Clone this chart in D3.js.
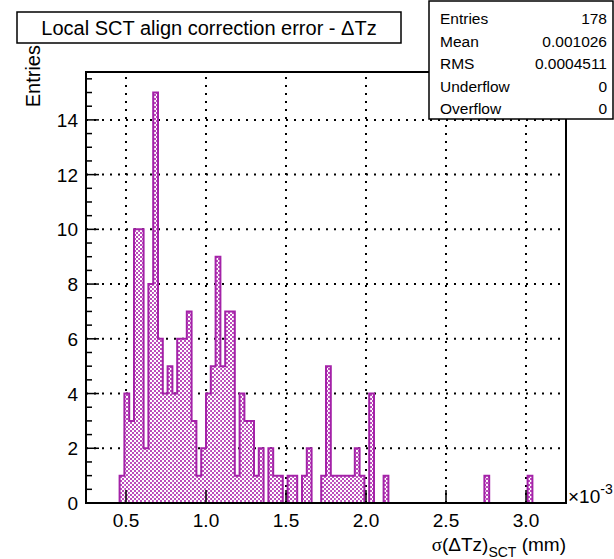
<!DOCTYPE html>
<html>
<head>
<meta charset="utf-8">
<script src="https://cdn.jsdelivr.net/npm/d3@7"></script>
<style>
  body { margin: 0; background: #fff; }
  svg { font-family: "Liberation Sans", Arial, Helvetica, sans-serif; }
</style>
</head>
<body>
<svg id="chart" width="614" height="559"></svg>
<script>
// histogram definition (x in units of 1e-3 mm)
const xMin = 0.25, xMax = 3.25, nBins = 100;
const counts = [
  0, 0, 0, 0, 0, 0, 0, 1, 4, 3,
  10, 10, 2, 8, 15, 6, 4, 5, 4, 6,
  6, 7, 3, 1, 2, 4, 5, 9, 5, 7,
  7, 1, 4, 3, 3, 1, 2, 0, 2, 1,
  1, 0, 1, 1, 0, 1, 2, 0, 0, 1,
  5, 1, 1, 1, 1, 1, 2, 1, 0, 4,
  0, 0, 1, 0, 0, 0, 0, 0, 0, 0,
  0, 0, 0, 0, 0, 0, 0, 0, 0, 0,
  0, 0, 0, 1, 0, 0, 0, 0, 0, 0,
  0, 0, 1, 0, 0, 0, 0, 0, 0, 0
];
const xTicks = [0.5, 1.0, 1.5, 2.0, 2.5, 3.0];
const yTicks = [0, 2, 4, 6, 8, 10, 12, 14];
const yMax = 15.75;

const titleText = "Local SCT align correction error - \u0394Tz";
const statNames = ["Entries", "Mean", "RMS", "Underflow", "Overflow"];
const statValues = ["178", "0.001026", "0.0004511", "0", "0"];

const svg = d3.select("#chart");
const pl = 86, pr = 566, pt = 72, pb = 503;
const binW = (xMax - xMin) / nBins;

const x = d3.scaleLinear().domain([xMin, xMax]).range([pl, pr]);
const y = d3.scaleLinear().domain([0, yMax]).range([pb, pt]);

// checker pattern for the fill
const defs = svg.append("defs");
const pat = defs.append("pattern")
    .attr("id", "checker")
    .attr("patternUnits", "userSpaceOnUse")
    .attr("width", 4).attr("height", 4);
pat.append("rect").attr("width", 4).attr("height", 4).attr("fill", "#fff");
pat.append("rect").attr("x", 0).attr("y", 0).attr("width", 2).attr("height", 2).attr("fill", "#bb4cbb");
pat.append("rect").attr("x", 2).attr("y", 2).attr("width", 2).attr("height", 2).attr("fill", "#bb4cbb");

// grid (dotted)
const grid = svg.append("g")
    .attr("stroke", "#000").attr("stroke-width", 2)
    .attr("stroke-dasharray", "2,6");
grid.selectAll("line.gx").data(xTicks).enter().append("line")
    .attr("x1", d => x(d)).attr("x2", d => x(d))
    .attr("y1", pb).attr("y2", pt);
grid.selectAll("line.gy").data(yTicks.filter(d => d > 0)).enter().append("line")
    .attr("y1", d => y(d)).attr("y2", d => y(d))
    .attr("x1", pl).attr("x2", pr);

// filled bins
const barsG = svg.append("g");
barsG.selectAll("rect").data(counts.map((c, i) => ({c, i})).filter(d => d.c > 0))
  .enter().append("rect")
    .attr("x", d => x(xMin + d.i * binW))
    .attr("width", x(xMin + binW) - x(xMin))
    .attr("y", d => y(d.c))
    .attr("height", d => y(0) - y(d.c))
    .attr("fill", "url(#checker)");

// step outline
const firstIdx = counts.findIndex(c => c > 0);
let lastIdx = counts.length - 1;
while (counts[lastIdx] === 0) lastIdx--;
const stepPts = [];
for (let i = firstIdx; i <= lastIdx; i++) {
  const x0 = x(xMin + i * binW), x1 = x(xMin + (i + 1) * binW);
  if (i === firstIdx) stepPts.push([x0, y(0)]);
  stepPts.push([x0, y(counts[i])], [x1, y(counts[i])]);
}
stepPts.push([x(xMin + (lastIdx + 1) * binW), y(0)]);
svg.append("path")
    .attr("d", d3.line()(stepPts))
    .attr("fill", "none")
    .attr("stroke", "#a422a8")
    .attr("stroke-width", 2)
    .attr("stroke-linejoin", "miter");

// ticks
const tk = svg.append("g").attr("stroke", "#000").attr("stroke-width", 1.5);
tk.selectAll("line.tx").data(xTicks).enter().append("line")
    .attr("x1", d => x(d)).attr("x2", d => x(d))
    .attr("y1", pb).attr("y2", pb - 13);
const yMinor = d3.range(0, yMax, 0.5);
tk.selectAll("line.ty").data(yMinor).enter().append("line")
    .attr("y1", d => y(d)).attr("y2", d => y(d))
    .attr("x1", pl)
    .attr("x2", d => pl + (d % 2 === 0 ? 13 : 6));

// frame
svg.append("rect")
    .attr("x", pl).attr("y", pt)
    .attr("width", pr - pl).attr("height", pb - pt)
    .attr("fill", "none").attr("stroke", "#000").attr("stroke-width", 2);

// tick labels
svg.append("g").selectAll("text").data(xTicks).enter().append("text")
    .attr("x", d => x(d)).attr("y", 527)
    .attr("text-anchor", "middle").attr("font-size", 19)
    .text(d3.format(".1f"));
svg.append("g").selectAll("text").data(yTicks).enter().append("text")
    .attr("x", 78).attr("y", d => y(d) + 7)
    .attr("text-anchor", "end").attr("font-size", 19)
    .text(d => d);

// exponent
const ex = svg.append("text").attr("x", 568).attr("y", 503).attr("font-size", 19);
ex.append("tspan").text("\u00d710");
ex.append("tspan").attr("dy", -9).attr("font-size", 14).text("-3");

// axis titles
const xt = svg.append("text").attr("x", 566).attr("y", 551)
    .attr("text-anchor", "end").attr("font-size", 19);
xt.append("tspan").attr("font-family", "'Liberation Serif', 'DejaVu Serif', serif").text("\u03c3");
xt.append("tspan").text("(\u0394Tz)");
xt.append("tspan").attr("dy", 6).attr("font-size", 14).text("SCT");
xt.append("tspan").attr("dy", -6).text(" (mm)");

svg.append("text")
    .attr("transform", "translate(40,45) rotate(-90)")
    .attr("text-anchor", "end").attr("font-size", 20)
    .text("Entries");

// title box
svg.append("rect")
    .attr("x", 17).attr("y", 12).attr("width", 384).attr("height", 31)
    .attr("fill", "#fff").attr("stroke", "#000").attr("stroke-width", 1.5);
svg.append("text")
    .attr("x", 209).attr("y", 35)
    .attr("text-anchor", "middle").attr("font-size", 20)
    .text(titleText);

// stats box
svg.append("rect")
    .attr("x", 429).attr("y", 1).attr("width", 184).attr("height", 118)
    .attr("fill", "#fff").attr("stroke", "#000").attr("stroke-width", 1.5);
const rowY = d3.scaleLinear().domain([0, statNames.length - 1]).range([24, 114]);
svg.append("g").selectAll("text").data(statNames).enter().append("text")
    .attr("x", 440).attr("y", (d, i) => rowY(i))
    .attr("font-size", 15.5).text(d => d);
svg.append("g").selectAll("text").data(statValues).enter().append("text")
    .attr("x", 607).attr("y", (d, i) => rowY(i))
    .attr("text-anchor", "end").attr("font-size", 15.5).text(d => d);
</script>
</body>
</html>
